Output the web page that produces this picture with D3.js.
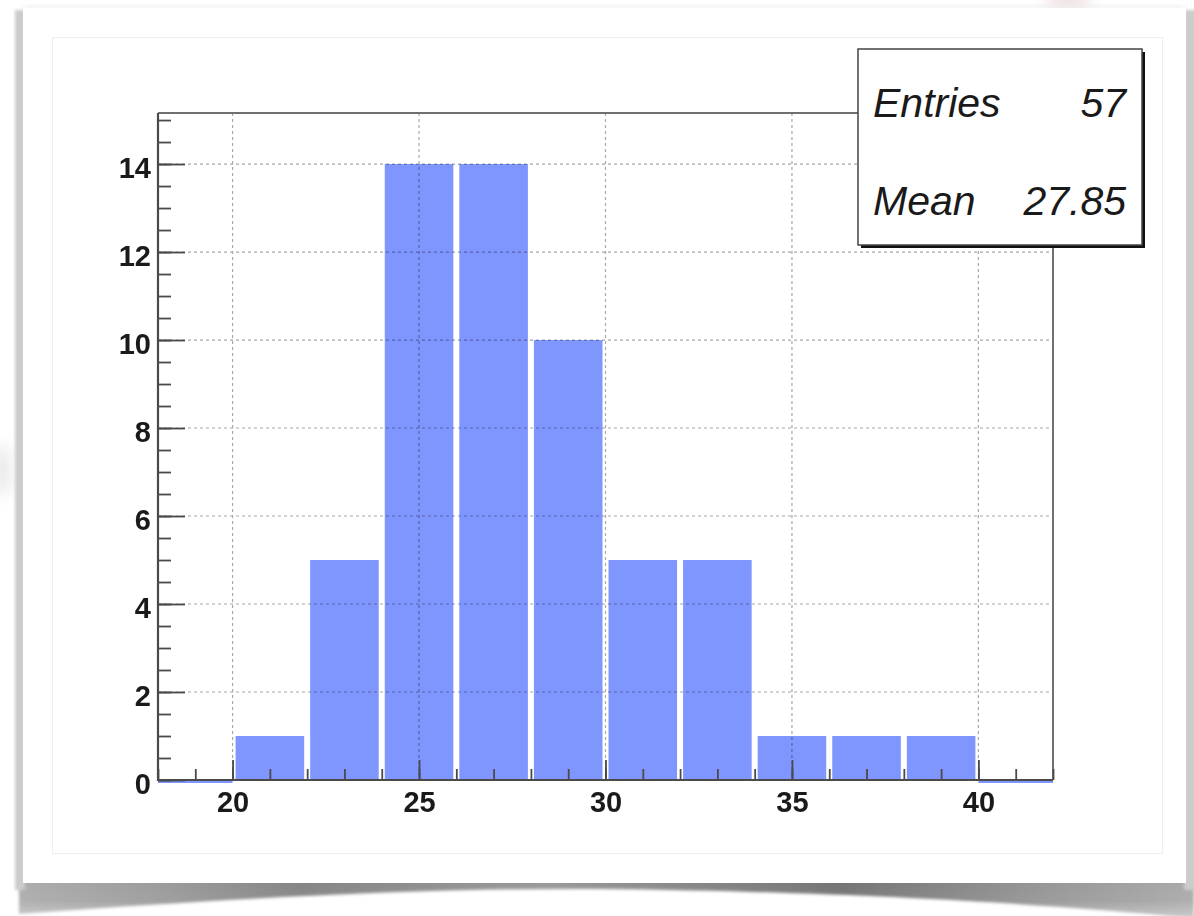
<!DOCTYPE html>
<html>
<head>
<meta charset="utf-8">
<script src="https://cdn.jsdelivr.net/npm/d3@7"></script>
<style>
  html, body { margin: 0; padding: 0; background: #ffffff; }
  svg { display: block; }
  .lbl { font-family: "Liberation Sans", Arial, Helvetica, sans-serif; }
</style>
</head>
<body>
<svg id="chart" width="1194" height="916"></svg>
<script>
// Histogram contents: bin lower edges (width 2) and entries per bin
const binLow = [20, 22, 24, 26, 28, 30, 32, 34, 36, 38];
const binWidth = 2;
const counts = [1, 5, 14, 14, 10, 5, 5, 1, 1, 1];

// Axis ranges and tick values
const xDomain = [18, 42];
const yDomain = [0, 15.16];
const xMajorTicks = [20, 25, 30, 35, 40];
const xMinorTicks = d3.range(18, 43, 1);
const yMajorTicks = [0, 2, 4, 6, 8, 10, 12, 14];
const yMinorTicks = d3.range(0, 15.01, 0.5);

// Statistics box
const statNames = ["Entries", "Mean"];
const statValues = ["57", "27.85"];

const svg = d3.select("#chart");
const defs = svg.append("defs");

// ---- card / paper background ----
function blurFilter(id, sd) {
  defs.append("filter").attr("id", id).attr("x", "-50%").attr("y", "-50%")
    .attr("width", "200%").attr("height", "200%")
    .append("feGaussianBlur").attr("stdDeviation", sd);
}
blurFilter("soft", 3);
blurFilter("wedge", 1.8);
blurFilter("thin", 1.5);
blurFilter("softer", 8);

// curled lower shadow: lighter at the far ends, darkest right under the card
const wedgeGrad = defs.append("linearGradient").attr("id", "wedgeGrad")
  .attr("x1", 0).attr("x2", 1).attr("y1", 0).attr("y2", 0);
[[0, "#adadad"], [0.12, "#9c9c9c"], [0.24, "#858585"], [0.45, "#9a9a9a"],
 [0.7, "#747474"], [0.85, "#939393"], [1, "#ababab"]]
  .forEach(([o, c]) => wedgeGrad.append("stop").attr("offset", o).attr("stop-color", c));

// fade of the shadow away from the card edge
const fadeGrad = defs.append("linearGradient").attr("id", "fadeGrad")
  .attr("x1", 0).attr("x2", 0).attr("y1", 0).attr("y2", 1);
fadeGrad.append("stop").attr("offset", 0).attr("stop-color", "#ffffff").attr("stop-opacity", 0);
fadeGrad.append("stop").attr("offset", 0.55).attr("stop-color", "#ffffff").attr("stop-opacity", 0.05);
fadeGrad.append("stop").attr("offset", 1).attr("stop-color", "#ffffff").attr("stop-opacity", 0.35);

const bg = svg.append("g");
// faint background blobs around the card
bg.append("ellipse").attr("cx", 1068).attr("cy", 0).attr("rx", 24).attr("ry", 7)
  .attr("fill", "#ead6d8").attr("filter", "url(#softer)");
bg.append("ellipse").attr("cx", 2).attr("cy", 470).attr("rx", 7).attr("ry", 26)
  .attr("fill", "#e2e2e2").attr("filter", "url(#softer)");

const wedgePath = "M19,880 L1194,880 L1194,918 C1040,904 860,892 600,889 C420,888 240,898 19,914 Z";
bg.append("path").attr("d", wedgePath)
  .attr("fill", "url(#wedgeGrad)").attr("filter", "url(#wedge)");
bg.append("rect").attr("x", 0).attr("y", 883).attr("width", 1194).attr("height", 33)
  .attr("fill", "url(#fadeGrad)");
// side shadows
bg.append("rect").attr("x", 15).attr("y", 10).attr("width", 10).attr("height", 880)
  .attr("fill", "#cccccc").attr("filter", "url(#thin)");
bg.append("rect").attr("x", 1184).attr("y", 10).attr("width", 12).attr("height", 880)
  .attr("fill", "#cccccc").attr("filter", "url(#thin)");
bg.append("rect").attr("x", 24).attr("y", 6).attr("width", 1160).attr("height", 4)
  .attr("fill", "#ececec").attr("filter", "url(#soft)");

// the white card
bg.append("rect").attr("x", 23).attr("y", 8).attr("width", 1163).attr("height", 875)
  .attr("fill", "#ffffff");
// canvas frame inside the card
bg.append("rect").attr("x", 52.5).attr("y", 37.5).attr("width", 1110).attr("height", 816)
  .attr("fill", "none").attr("stroke", "#eeeeee").attr("stroke-width", 1);

// ---- plot ----
const x = d3.scaleLinear().domain(xDomain).range([158, 1053]);
const y = d3.scaleLinear().domain(yDomain).range([780, 113]);

const plot = svg.append("g");

// zero-content outline on either side of the filled bins
const lo = binLow[0], hi = binLow[binLow.length - 1] + binWidth;
plot.append("path")
  .attr("d", `M${x(xDomain[0])},${y(0) + 2}H${x(lo)}M${x(hi)},${y(0) + 2}H${x(xDomain[1])}`)
  .attr("stroke", "#8096ff").attr("stroke-width", 2).attr("fill", "none");

// bars
const inset = 3;
plot.selectAll("rect.bar").data(binLow).join("rect")
  .attr("class", "bar")
  .attr("x", d => x(d) + inset)
  .attr("width", d => x(d + binWidth) - x(d) - 2 * inset)
  .attr("y", (d, i) => y(counts[i]))
  .attr("height", (d, i) => y(0) - y(counts[i]))
  .attr("fill", "#8096ff");

// grid (dashed), drawn over the bars
const grid = plot.append("g").style("mix-blend-mode", "multiply");
grid.selectAll("line.gx").data(xMajorTicks).join("line")
  .attr("x1", d => x(d)).attr("x2", d => x(d))
  .attr("y1", y(yDomain[1])).attr("y2", y(0))
  .attr("stroke", "#a8a8a8").attr("stroke-width", 1.2).attr("stroke-dasharray", "3,3");
grid.selectAll("line.gy").data(yMajorTicks.filter(d => d > 0)).join("line")
  .attr("x1", x(xDomain[0])).attr("x2", x(xDomain[1]))
  .attr("y1", d => y(d)).attr("y2", d => y(d))
  .attr("stroke", "#a8a8a8").attr("stroke-width", 1.2).attr("stroke-dasharray", "3,3");

// frame top/right
plot.append("path")
  .attr("d", `M${x(xDomain[0])},${y(yDomain[1])}H${x(xDomain[1])}V${y(0)}`)
  .attr("fill", "none").attr("stroke", "#707070").attr("stroke-width", 2);

const axisColor = "#4a4a4a";
function styleAxis(g) {
  g.select(".domain").remove();
  g.selectAll(".tick line").attr("stroke", axisColor).attr("stroke-width", 1.8);
}

// x axis: minor then major ticks (inward)
plot.append("g").attr("transform", `translate(0,${y(0)})`)
  .call(d3.axisBottom(x).tickValues(xMinorTicks).tickSize(-11).tickFormat(""))
  .call(styleAxis);
const xAx = plot.append("g").attr("transform", `translate(0,${y(0)})`)
  .call(d3.axisBottom(x).tickValues(xMajorTicks).tickSize(-20).tickPadding(11).tickFormat(d3.format("d")))
  .call(styleAxis);
xAx.selectAll(".tick text")
  .attr("class", "lbl").attr("fill", "#1a1a1a")
  .style("font-size", "29px").style("font-weight", "bold");

// y axis: minor then major ticks (inward)
plot.append("g").attr("transform", `translate(${x(xDomain[0])},0)`)
  .call(d3.axisLeft(y).tickValues(yMinorTicks).tickSize(-13).tickFormat(""))
  .call(styleAxis);
const yAx = plot.append("g").attr("transform", `translate(${x(xDomain[0])},0)`)
  .call(d3.axisLeft(y).tickValues(yMajorTicks).tickSize(-27).tickPadding(7).tickFormat(d3.format("d")))
  .call(styleAxis);
yAx.selectAll(".tick text")
  .attr("class", "lbl").attr("fill", "#1a1a1a").attr("dy", "0.45em")
  .style("font-size", "29px").style("font-weight", "bold");

// axis lines
plot.append("path")
  .attr("d", `M${x(xDomain[0])},${y(yDomain[1])}V${y(0)}H${x(xDomain[1])}`)
  .attr("fill", "none").attr("stroke", axisColor).attr("stroke-width", 2.2);

// ---- statistics box ----
const box = { x: 858, y: 49, w: 284, h: 196 };
const sb = svg.append("g");
sb.append("rect").attr("x", box.x + 3).attr("y", box.y + 3)
  .attr("width", box.w).attr("height", box.h).attr("fill", "#111111");
sb.append("rect").attr("x", box.x).attr("y", box.y)
  .attr("width", box.w).attr("height", box.h)
  .attr("fill", "#ffffff").attr("stroke", "#444444").attr("stroke-width", 1.5);
const rowY = d3.scalePoint().domain(statNames).range([117, 215]);
sb.selectAll("text.name").data(statNames).join("text")
  .attr("class", "lbl").attr("x", box.x + 15).attr("y", d => rowY(d))
  .attr("fill", "#1a1a1a").style("font-size", "41px").style("font-style", "italic")
  .text(d => d);
sb.selectAll("text.val").data(statValues).join("text")
  .attr("class", "lbl").attr("x", box.x + box.w - 16).attr("y", (d, i) => rowY(statNames[i]))
  .attr("text-anchor", "end")
  .attr("fill", "#1a1a1a").style("font-size", "41px").style("font-style", "italic")
  .text(d => d);
</script>
</body>
</html>
